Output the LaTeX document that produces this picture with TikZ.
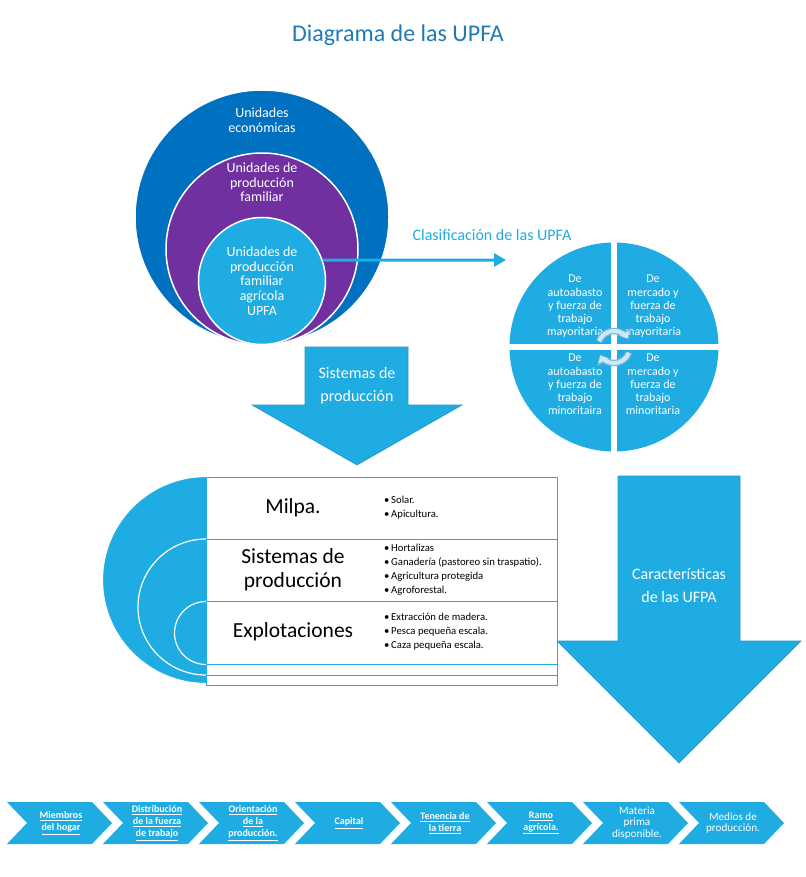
\documentclass[tikz,border=0pt]{standalone}
\usepackage{fontspec}
\setmainfont{Carlito}
\usetikzlibrary{arrows.meta}

\definecolor{ubDark}{RGB}{0,112,192}
\definecolor{ubPurple}{RGB}{112,48,160}
\definecolor{ubLight}{RGB}{30,172,226}
\definecolor{ubTitle}{RGB}{31,122,180}
\definecolor{ubEdge}{RGB}{40,150,205}
\definecolor{ubSwirl}{RGB}{205,233,247}
\definecolor{ubSwirlEdge}{RGB}{120,185,220}

\newcommand{\txtsize}[2]{\fontsize{#1}{#2}\selectfont}
\newcommand{\bul}{\makebox[7pt][l]{•}}

\begin{document}
\begin{tikzpicture}[x=1pt,y=-1pt,
  disc/.style={circle, inner sep=0pt, draw=white, line width=1.5pt},
  wtext/.style={text=white, align=center, inner sep=0pt},
  bigarrow/.style={fill=ubLight, draw=ubEdge, line width=0.6pt},
  rowtext/.style={font=\txtsize{21.5}{23.5}, align=center, inner sep=0pt},
  bulletlist/.style={anchor=west, align=left, inner sep=0pt, font=\txtsize{10.7}{14}},
  chevtext/.style={text=white, align=center, inner sep=0pt, font=\txtsize{11.2}{11.6}},
  swirlout/.style={ubSwirlEdge, line width=6.5pt, -{Triangle[length=9pt,width=15pt]}},
  swirlin/.style={ubSwirl, line width=4pt, shorten >=1.2pt, -{Triangle[length=6pt,width=10.5pt]}}
]
\useasboundingbox (0,0) rectangle (805,877);

% title
\node[font=\txtsize{24}{28}, text=ubTitle] (title) at (398,35) {Diagrama de las UPFA};

% nested circles of economic units
\node[disc, fill=ubDark, minimum size=254pt] (eco) at (262,217) {};
\node[disc, fill=ubPurple, minimum size=192pt] (fam) at (262,249) {};
\node[disc, fill=ubLight, minimum size=127pt] (upfa) at (262,281) {};
\node[wtext, font=\txtsize{14}{15}] (ecoT) at (262,120.5) {Unidades\\económicas};
\node[wtext, font=\txtsize{14}{14.6}] (famT) at (262,182.5) {Unidades de\\producción\\familiar};
\node[wtext, font=\txtsize{14}{14.7}] (upfaT) at (262,281) {Unidades de\\producción\\familiar\\agrícola\\UPFA};

% link to the classification
\coordinate (clsTip) at (506,260);
\draw[ubLight, line width=3pt, -{Triangle[length=12pt,width=13pt]}] (upfa.19) -- (clsTip);
\node[text=ubLight, font=\txtsize{16}{18}] (clsT) at (492,235) {Clasificación de las UPFA};

% classification circle in four quadrants
\node[circle, inner sep=0pt, minimum size=209pt, fill=ubLight] (clas) at (614,347) {};
\draw[white, line width=6pt] (clas.north) -- (clas.south);
\draw[white, line width=6pt] (clas.west) -- (clas.east);
\node[wtext, font=\txtsize{12}{13.3}] (q1) at (575,306.5) {De\\autoabasto\\y fuerza de\\trabajo\\mayoritaria};
\node[wtext, font=\txtsize{12}{13.3}] (q2) at (653,306.5) {De\\mercado y\\fuerza de\\trabajo\\mayoritaria};
\node[wtext, font=\txtsize{12}{13.3}] (q3) at (575,384.5) {De\\autoabasto\\y fuerza de\\trabajo\\minoritaira};
\node[wtext, font=\txtsize{12}{13.3}] (q4) at (653,384.5) {De\\mercado y\\fuerza de\\trabajo\\minoritaria};
% cycle arrows in the middle
\draw[swirlout] (clas.center) ++(-160:16) arc[start angle=-160, end angle=-28, radius=16];
\draw[swirlout] (clas.center) ++(20:16) arc[start angle=20, end angle=152, radius=16];
\draw[swirlin] (clas.center) ++(-159:16) arc[start angle=-159, end angle=-28, radius=16];
\draw[swirlin] (clas.center) ++(21:16) arc[start angle=21, end angle=152, radius=16];

% down arrow: production systems
\draw[bigarrow] (305,347) -- (408,347) -- (408,405) -- (462,405) -- (357,465) -- (252,405) -- (305,405) -- cycle;
\node[wtext, font=\txtsize{16}{23}] (sisT) at (357,386) {Sistemas de\\producción};

% down arrow: characteristics
\draw[bigarrow] (618,476) -- (740,476) -- (740,641) -- (801,641) -- (679,763) -- (557,641) -- (618,641) -- cycle;
\node[wtext, font=\txtsize{16}{22.5}] (carT) at (679,585.5) {Características\\de las UFPA};

% nested half discs
\begin{scope}
  \clip (0,470) rectangle (206,700);
  \fill[ubLight, draw=white, line width=1.2pt] (206,580) circle[radius=103.5];
  \fill[ubLight, draw=white, line width=1.2pt] (206,607) circle[radius=68];
  \fill[ubLight, draw=white, line width=1.2pt] (206,633) circle[radius=31.5];
\end{scope}

% table of systems
\draw[ubLight, line width=1pt, fill=white] (206,477) rectangle (557,685);
\foreach \yy in {539,601,664,675}
  \draw[ubLight, line width=1pt] (206,\yy) -- (557,\yy);
\node[rowtext] (r1) at (293,508) {Milpa.};
\node[rowtext] (r2) at (293,570) {Sistemas de\\producción};
\node[rowtext] (r3) at (293,632) {Explotaciones};
\node[bulletlist] (b1) at (384,508) {\bul Solar.\\\bul Apicultura.};
\node[bulletlist] (b2) at (384,570) {\bul Hortalizas\\\bul Ganadería (pastoreo sin traspatio).\\\bul Agricultura protegida\\\bul Agroforestal.};
\node[bulletlist] (b3) at (384,632) {\bul Extracción de madera.\\\bul Pesca pequeña escala.\\\bul Caza pequeña escala.};

% chevron process row
\foreach \x [count=\i] in {7,103,199,295,391,487,583,679}{
  \fill[ubLight] (\x,802) -- ++(85,0) -- ++(20,21) -- ++(-20,21) -- ++(-85,0) -- ++(20,-21) -- cycle;
  \coordinate (chev\i) at (\x+54,823);
}
\node[chevtext, font=\bfseries] (c1) at (chev1) {\underline{Miembros}\\\underline{del hogar}};
\node[chevtext, font=\bfseries] (c2) at (chev2) {\underline{Distribución}\\\underline{de la fuerza}\\\underline{de trabajo}};
\node[chevtext, font=\bfseries] (c3) at (chev3) {\underline{Orientación}\\\underline{de la}\\\underline{producción.}};
\node[chevtext, font=\bfseries] (c4) at (chev4) {\underline{Capital}};
\node[chevtext, font=\bfseries] (c5) at (chev5) {\underline{Tenencia de}\\\underline{la tierra}};
\node[chevtext, font=\bfseries] (c6) at (chev6) {\underline{Ramo}\\\underline{agrícola.}};
\node[chevtext] (c7) at (chev7) {Materia\\prima\\disponible.};
\node[chevtext] (c8) at (chev8) {Medios de\\producción.};
\end{tikzpicture}
\end{document}
